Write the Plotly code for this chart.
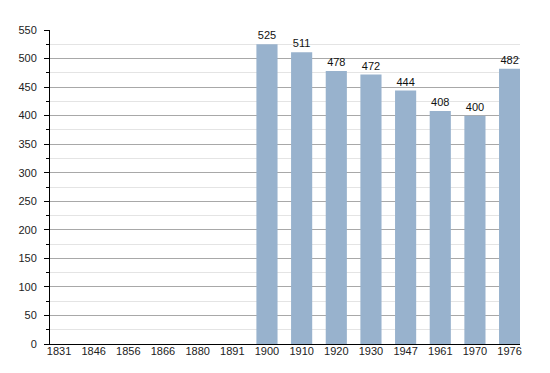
import plotly.graph_objects as go

years = ["1831", "1846", "1856", "1866", "1880", "1891", "1900", "1910", "1920", "1930", "1947", "1961", "1970", "1976"]
population = [None, None, None, None, None, None, 525, 511, 478, 472, 444, 408, 400, 482]
labels = ["" if v is None else str(v) for v in population]

fig = go.Figure(go.Bar(
    x=years, y=population, text=labels, textposition="outside",
    marker=dict(color="#98b2cd", line=dict(width=0)),
    textfont=dict(family="Liberation Sans, Arial, sans-serif", size=11, color="#111"),
    cliponaxis=False,
))

fig.update_layout(
    width=542, height=365,
    margin=dict(l=42, r=30, t=22, b=29, autoexpand=False),
    plot_bgcolor="white", paper_bgcolor="white",
    bargap=0.39,
    showlegend=False,
    font=dict(family="Liberation Sans, Arial, sans-serif", size=11, color="#222"),
    xaxis=dict(type="category", range=[-0.26, 13.3], showline=True, linecolor="black", linewidth=1,
               ticks="", showgrid=False, tickfont=dict(size=11), automargin=False,
               ticklabelstandoff=-3),
    yaxis=dict(range=[0, 550], dtick=50, showline=True, linecolor="black", linewidth=1,
               ticks="outside", ticklen=5, tickcolor="black", automargin=False,
               ticklabelstandoff=5,
               showgrid=True, gridcolor="#a8a8a8", gridwidth=1, zeroline=False,
               minor=dict(dtick=25, ticks="outside", ticklen=3, tickcolor="black",
                          showgrid=True, gridcolor="#e4e4e4", gridwidth=1),
               tickfont=dict(size=11)),
)

fig.write_html("out.html")
